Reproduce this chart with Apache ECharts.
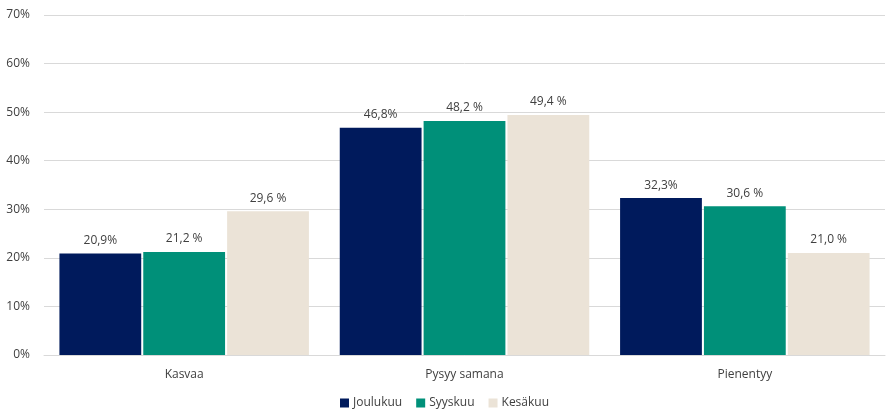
<!DOCTYPE html>
<html><head><meta charset="utf-8">
<script src="https://cdn.jsdelivr.net/npm/echarts@6/dist/echarts.min.js"></script>
<style>html,body{margin:0;padding:0;background:#fff}#c{width:889px;height:409px}</style>
</head><body><div id="c"></div>
<script>
const categories = ["Kasvaa", "Pysyy samana", "Pienentyy"];
const seriesNames = ["Joulukuu", "Syyskuu", "Kesäkuu"];
const joulukuu = [20.9, 46.8, 32.3];
const syyskuu = [21.2, 48.2, 30.6];
const kesakuu = [29.6, 49.4, 21.0];
const yTicks = [0, 10, 20, 30, 40, 50, 60, 70];
const colors = ["#001a5c", "#009079", "#ebe3d7"];
const labelSep = ["", " ", " "];

const fmt = (v, sep) => v.toFixed(1).replace('.', ',') + sep + '%';
const chart = echarts.init(document.getElementById('c'));
const data = [joulukuu, syyskuu, kesakuu];
chart.setOption({
  animation: false,
  textStyle: { fontFamily: 'Open Sans, Noto Sans, sans-serif' },
  grid: { left: 44, right: 4, top: 15, bottom: 54 },
  legend: {
    bottom: 0, left: 'center', padding: 0, itemWidth: 9, itemHeight: 9, itemGap: 14,
    icon: 'rect',
    textStyle: { fontSize: 12, color: '#404040', padding: [0, 0, 0, -1] },
    data: seriesNames
  },
  xAxis: {
    type: 'category', data: categories,
    axisLine: { lineStyle: { color: '#d9d9d9', width: 1 } },
    axisTick: { show: false },
    axisLabel: { fontSize: 12, color: '#404040', margin: 14 }
  },
  yAxis: {
    type: 'value', min: yTicks[0], max: yTicks[yTicks.length - 1], interval: 10,
    axisLabel: { formatter: '{value}%', fontSize: 12, color: '#404040', margin: 14 },
    splitLine: { lineStyle: { color: '#d9d9d9' } },
    axisLine: { show: false }, axisTick: { show: false }
  },
  series: data.map((d, i) => ({
    name: seriesNames[i], type: 'bar', data: d,
    barCategoryGap: '11%', barGap: '2.5%',
    itemStyle: { color: colors[i] },
    label: {
      show: true, position: 'top', distance: 7, fontSize: 12, color: '#404040',
      formatter: p => fmt(p.value, labelSep[i])
    }
  }))
});
</script></body></html>
